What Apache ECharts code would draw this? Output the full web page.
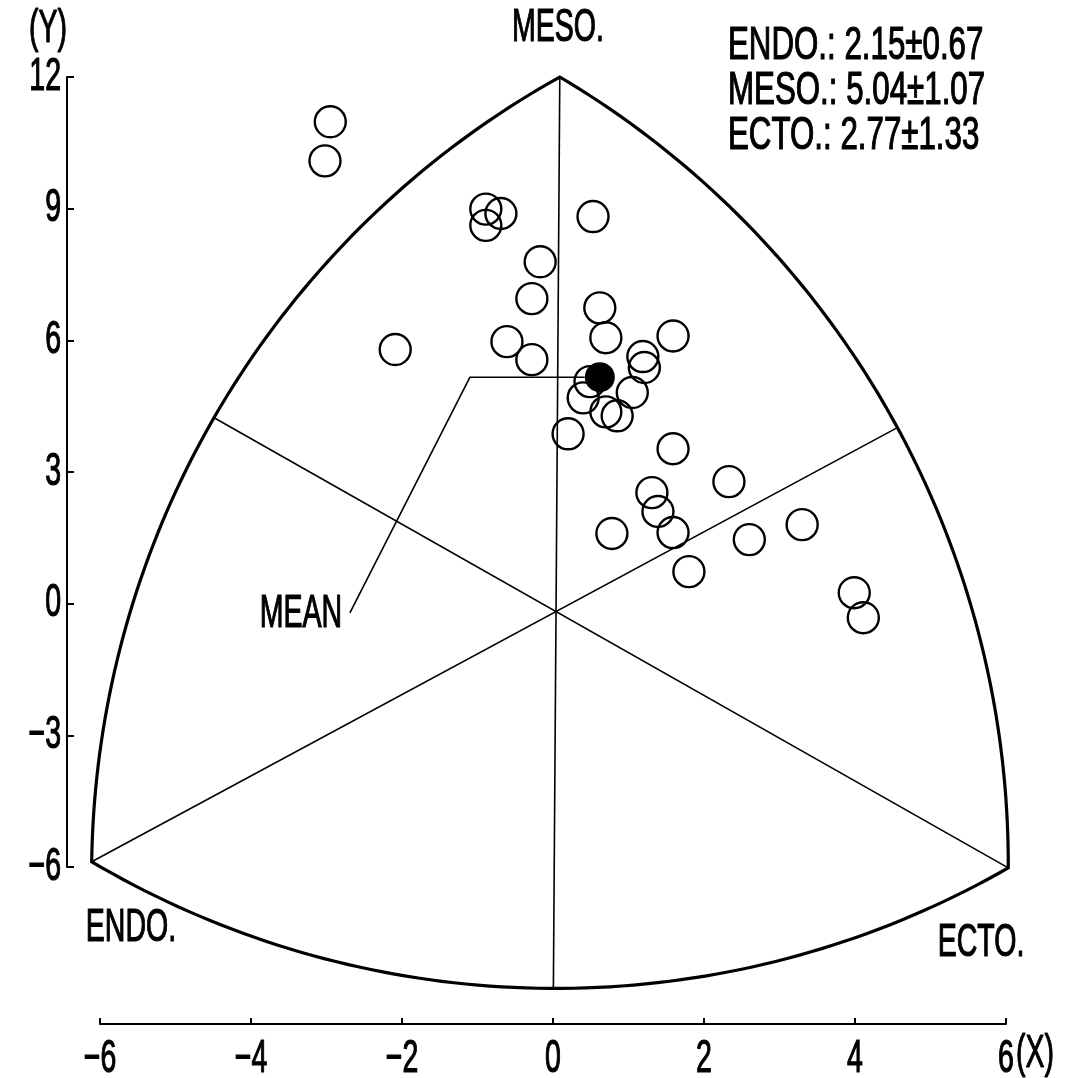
<!DOCTYPE html>
<html>
<head>
<meta charset="utf-8">
<script src="https://cdn.jsdelivr.net/npm/echarts@6/dist/echarts.min.js"></script>
<style>
  html, body { margin: 0; padding: 0; background: #ffffff; }
  #chart { width: 1082px; height: 1078px; }
</style>
</head>
<body>
<div id="chart"></div>
<script>
// Somatochart: X = ECTO - ENDO, Y = 2*MESO - (ENDO + ECTO)

// axis ticks
const xTicks = [-6, -4, -2, 0, 2, 4, 6];
const yTicks = [-6, -3, 0, 3, 6, 9, 12];

// individual somatoplots
const subjectX = [-2.95, -3.02, -0.89, -0.69, -0.89, -0.17, -0.28, -0.61, -0.28, -2.09,
                  0.53, 0.62, 0.70, 1.59, 1.19, 1.21, 0.49, 0.40, 1.05, 0.70,
                  0.85, 0.20, 1.59, 2.33, 1.31, 1.39, 1.59, 0.78, 1.80, 2.60,
                  3.30, 3.99, 4.11];
const subjectY = [10.98, 10.09, 8.99, 8.89, 8.62, 7.79, 6.95, 5.97, 5.56, 5.79,
                  8.82, 6.74, 6.06, 6.10, 5.63, 5.38, 5.06, 4.69, 4.81, 4.37,
                  4.28, 3.87, 3.53, 2.78, 2.53, 2.10, 1.62, 1.60, 0.73, 1.46,
                  1.80, 0.25, -0.32];

// group somatotype (mean and SD of each component)
const componentNames = ['ENDO.', 'MESO.', 'ECTO.'];
const componentMean = [2.15, 5.04, 2.77];
const componentSD = [0.67, 1.07, 1.33];

// frame: vertices (MESO, ENDO, ECTO) and the point where the three spokes meet
const frameVertexX = [0.09, -6.11, 6.03];
const frameVertexY = [12.0, -5.88, -6.02];
const frameCenter = [0.04, -0.18];

// leader from the MEAN label to the mean somatoplot
const leaderStart = [-2.69, -0.21];
const leaderElbowX = -1.10;

const meanPoint = [
  componentMean[2] - componentMean[0],
  2 * componentMean[1] - (componentMean[0] + componentMean[2])
];

// condensed lettering: Liberation Sans squeezed horizontally, lightly stroked
const FONT = "'Liberation Sans', Arial, sans-serif";
const FONT_SIZE = 46;
const SQUEEZE = 0.62;
const INK = '#000000';
const X_AXIS_OFFSET = 157;
const Y_AXIS_OFFSET = 33;

const minus = v => (v < 0 ? '\u2212' + Math.abs(v) : String(v));

function label(text, x, y, align, vAlign, squeeze) {
  return {
    type: 'text', x: x, y: y,
    scaleX: squeeze || SQUEEZE,
    silent: true,
    style: {
      text: text, fontFamily: FONT, fontSize: FONT_SIZE, fill: INK,
      stroke: INK, lineWidth: 1.2,
      textAlign: align, textVerticalAlign: vAlign,
      align: align, verticalAlign: vAlign
    }
  };
}

function arcPoints(center, a, b, n) {
  const ra = Math.hypot(a[0] - center[0], a[1] - center[1]);
  const rb = Math.hypot(b[0] - center[0], b[1] - center[1]);
  const ta = Math.atan2(a[1] - center[1], a[0] - center[0]);
  const tb = Math.atan2(b[1] - center[1], b[0] - center[0]);
  let d = tb - ta;
  while (d > Math.PI) d -= 2 * Math.PI;
  while (d < -Math.PI) d += 2 * Math.PI;
  const pts = [];
  for (let i = 0; i <= n; i++) {
    const t = i / n;
    const r = ra + (rb - ra) * t;
    const th = ta + d * t;
    pts.push([center[0] + r * Math.cos(th), center[1] + r * Math.sin(th)]);
  }
  return pts;
}

function renderFrame(params, api) {
  const V = frameVertexX.map((x, i) => api.coord([x, frameVertexY[i]]));
  const C = api.coord(frameCenter);
  const [mesoV, endoV, ectoV] = V;
  // Reuleaux outline: each side is an arc centred on the opposite vertex
  const outline = []
    .concat(arcPoints(endoV, mesoV, ectoV, 80))
    .concat(arcPoints(mesoV, ectoV, endoV, 80).slice(1))
    .concat(arcPoints(ectoV, endoV, mesoV, 80).slice(1));
  const children = [{
    type: 'polygon',
    shape: { points: outline },
    style: { fill: 'none', stroke: INK, lineWidth: 3.2, lineJoin: 'miter' }
  }];
  // spokes: from each vertex through the centre to the opposite arc
  V.forEach((v, i) => {
    const others = V.filter((_, j) => j !== i);
    const r = (Math.hypot(others[0][0] - v[0], others[0][1] - v[1]) +
               Math.hypot(others[1][0] - v[0], others[1][1] - v[1])) / 2;
    const dx = C[0] - v[0], dy = C[1] - v[1];
    const len = Math.hypot(dx, dy);
    children.push({
      type: 'line',
      shape: { x1: v[0], y1: v[1], x2: v[0] + r * dx / len, y2: v[1] + r * dy / len },
      style: { stroke: INK, lineWidth: 1.6 }
    });
  });
  return { type: 'group', children };
}

// tick labels placed beside the offset axes
function renderXLabel(params, api) {
  const v = api.value(0);
  const p = api.coord([v, -6]);
  return label(minus(v), p[0], p[1] + X_AXIS_OFFSET + 12, 'center', 'top');
}
function renderYLabel(params, api) {
  const v = api.value(1);
  const p = api.coord([-6, v]);
  return label(minus(v), p[0] - Y_AXIS_OFFSET - 6, p[1], 'right', 'middle');
}

const chart = echarts.init(document.getElementById('chart'), null, { renderer: 'canvas' });

const subjects = subjectX.map((x, i) => [x, subjectY[i]]);

chart.setOption({
  backgroundColor: '#ffffff',
  animation: false,
  grid: { left: 100, right: 76, top: 77, bottom: 211, containLabel: false },
  xAxis: {
    type: 'value',
    min: -6, max: 6, interval: 2,
    position: 'bottom',
    offset: X_AXIS_OFFSET,
    splitLine: { show: false },
    axisLine: { show: true, onZero: false, lineStyle: { color: INK, width: 2 } },
    axisTick: { show: true, inside: true, length: 6, lineStyle: { color: INK, width: 2 }, customValues: xTicks },
    axisLabel: { show: false }
  },
  yAxis: {
    type: 'value',
    min: -6, max: 12, interval: 3,
    position: 'left',
    offset: Y_AXIS_OFFSET,
    splitLine: { show: false },
    axisLine: { show: true, onZero: false, lineStyle: { color: INK, width: 2 } },
    axisTick: { show: true, inside: true, length: 7, lineStyle: { color: INK, width: 2 }, customValues: yTicks },
    axisLabel: { show: false }
  },
  series: [
    {
      type: 'custom',
      name: 'frame',
      renderItem: renderFrame,
      data: [[0, 0]],
      clip: false,
      silent: true,
      z: 1
    },
    {
      type: 'custom',
      name: 'xTickLabels',
      renderItem: renderXLabel,
      data: xTicks.map(v => [v, -6]),
      clip: false,
      silent: true,
      z: 5
    },
    {
      type: 'custom',
      name: 'yTickLabels',
      renderItem: renderYLabel,
      data: yTicks.map(v => [-6, v]),
      clip: false,
      silent: true,
      z: 5
    },
    {
      type: 'line',
      name: 'leader',
      data: [leaderStart, [leaderElbowX, meanPoint[1]], [meanPoint[0] - 0.2, meanPoint[1]]],
      symbol: 'none',
      lineStyle: { color: INK, width: 1.6 },
      silent: true,
      z: 2
    },
    {
      type: 'scatter',
      name: 'subjects',
      data: subjects,
      symbol: 'circle',
      symbolSize: 31,
      itemStyle: { color: 'rgba(255,255,255,0)', borderColor: INK, borderWidth: 2.4, opacity: 1 },
      silent: true,
      z: 3
    },
    {
      type: 'scatter',
      name: 'mean',
      data: [meanPoint],
      symbol: 'circle',
      symbolSize: 30,
      itemStyle: { color: INK, opacity: 1 },
      silent: true,
      z: 4
    }
  ],
  graphic: [
    label('(Y)', 48, 29, 'center', 'middle'),
    label('(X)', 1035, 1054, 'center', 'middle'),
    label('MESO.', 558, 28, 'center', 'middle'),
    label('ENDO.', 131, 928, 'center', 'middle'),
    label('ECTO.', 981, 943, 'center', 'middle'),
    label('MEAN', 301, 614, 'center', 'middle')
  ].concat(componentNames.map((name, i) =>
    label(name + ': ' + componentMean[i].toFixed(2) + '\u00b1' + componentSD[i].toFixed(2),
          728, 46 + i * 45, 'left', 'middle', 0.68)
  ))
});
</script>
</body>
</html>
